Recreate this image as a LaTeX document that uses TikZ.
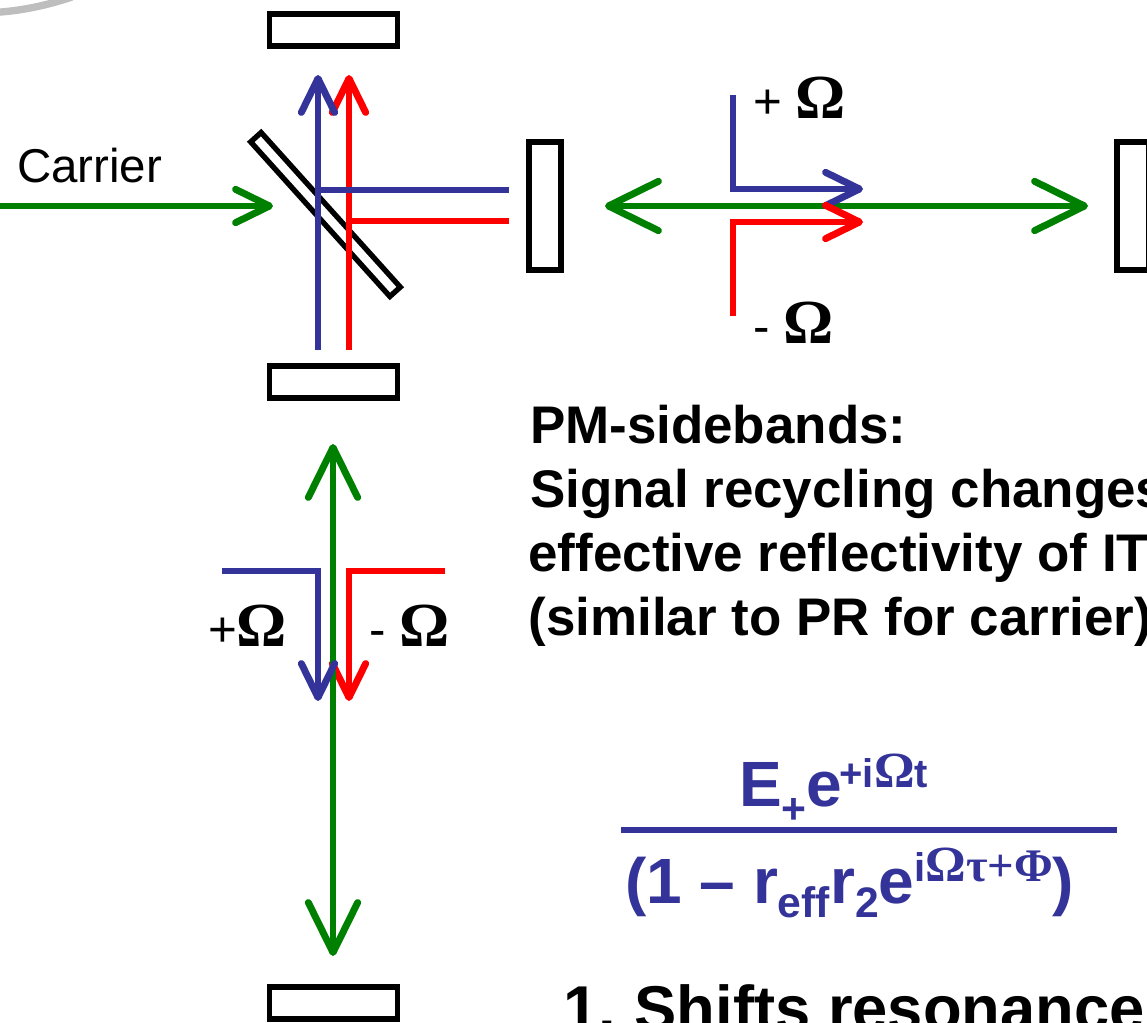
\documentclass[tikz,border=0pt]{standalone}
\usepackage{fontspec}
\setmainfont{Liberation Sans}
\newfontfamily\serifO{Liberation Serif}
\usetikzlibrary{arrows.meta}
\definecolor{beamblue}{HTML}{333399}
\definecolor{beamred}{HTML}{FF0000}
\definecolor{beamgreen}{HTML}{008000}
\definecolor{arcgray}{HTML}{BEBEBE}
\newcommand{\pxfont}[1]{\fontsize{#1}{#1}\selectfont}
\newcommand{\bigO}{{\serifO\bfseries\pxfont{47}Ω}}
\newcommand{\supS}[2]{\raisebox{#1}{\pxfont{30}\bfseries #2}}
\newcommand{\supO}[1]{{\serifO\bfseries\pxfont{38}#1}}
\newcommand{\supT}[1]{{\serifO\bfseries\pxfont{35}#1}}
\newcommand{\subS}[2]{\raisebox{#1}{\pxfont{32}\bfseries #2}}
\tikzset{
  x=0.75pt,y=-0.75pt,
  mirrorh/.style={draw=black,line width=4pt,minimum width=96pt,minimum height=24pt,inner sep=0pt,outer sep=0pt},
  mirrorv/.style={draw=black,line width=4pt,minimum width=24pt,minimum height=96pt,inner sep=0pt,outer sep=0pt},
  splitter/.style={draw=black,line width=4pt,minimum width=156pt,minimum height=10.5pt,inner sep=0pt,outer sep=0pt,rotate=-48},
  beam/.style={line width=4.4pt,line join=miter},
  tipS/.style={-{Straight Barb[round,length=25.5pt,width=25pt,line width=5.2pt]}},
  tipL/.style={{Straight Barb[round,length=37.5pt,width=37pt,line width=5.2pt]}-{Straight Barb[round,length=37.5pt,width=37pt,line width=5.2pt]}},
  txt/.style={inner sep=0pt,outer sep=0pt,anchor=base west,text=black},
  carrierlabel/.style={txt,font=\pxfont{35.6}},
  headline/.style={txt,font=\pxfont{39.7}\bfseries},
  bigline/.style={txt,font=\pxfont{47.5}\bfseries},
  omegalabel/.style={txt,font=\pxfont{37}},
  formula/.style={inner sep=0pt,outer sep=0pt,anchor=base west,text=beamblue,font=\pxfont{48}\bfseries},
}
\begin{document}
\begin{tikzpicture}
\useasboundingbox (0,0) rectangle (1147,1023);
\begin{scope}
\clip (0,0) rectangle (1147,1023);
\draw[arcgray,line width=5.5pt] (-6,12.5) .. controls (20,11) and (45,6) .. (72,-3);
% optics
\node[mirrorh] (mtop) at (333.5,30) {};
\node[mirrorh] (mmid) at (333.5,382) {};
\node[mirrorh] (mbot) at (333.5,1003) {};
\node[mirrorv] (mright) at (545,206) {};
\node[mirrorv] (mfar) at (1133,206) {};
\node[splitter] (bs) at (325.5,214.5) {};
% coordinates
\coordinate (cin) at (-5,206);
\coordinate (cintip) at (273,206);
\coordinate (blow) at (318,350);
\coordinate (btop) at (318,75);
\coordinate (rlow) at (349,350);
\coordinate (rtop) at (349,75);
\coordinate (bj) at (318,190);
\coordinate (bend) at (509,190);
\coordinate (rj) at (349,221);
\coordinate (rend) at (509,221);
\coordinate (gl) at (605,206);
\coordinate (gr) at (1088,206);
\coordinate (gu) at (333,444);
\coordinate (gd) at (333,956);
\coordinate (pa) at (733,95);
\coordinate (pb) at (733,189);
\coordinate (pc) at (863,189);
\coordinate (qa) at (733,316);
\coordinate (qb) at (733,222);
\coordinate (qc) at (863,222);
\coordinate (sa) at (222,571);
\coordinate (sb) at (318,571);
\coordinate (sc) at (318,701);
\coordinate (ta) at (445,571);
\coordinate (tb) at (349,571);
\coordinate (tc) at (349,701);
% beams
\draw[beam,beamgreen,tipS] (cin) -- (cintip);
\draw[beam,beamred,tipS] (rlow) -- (rtop);
\draw[beam,beamblue,tipS] (blow) -- (btop);
\draw[beam,beamred] (rj) -- (rend);
\draw[beam,beamblue] (bj) -- (bend);
\draw[beam,beamgreen,tipL] (gl) -- (gr);
\draw[beam,beamblue,tipS] (pa) -- (pb) -- (pc);
\draw[beam,beamred,tipS] (qa) -- (qb) -- (qc);
\draw[beam,beamred,tipS] (ta) -- (tb) -- (tc);
\draw[beam,beamgreen,tipL] (gu) -- (gd);
\draw[beam,beamblue,tipS] (sa) -- (sb) -- (sc);
% labels
\node[carrierlabel] (lcarrier) at (17,183) {Carrier};
\node[omegalabel] (lp1) at (753,119) {+ \bigO};
\node[omegalabel] (lm1) at (753,344) {- \bigO};
\node[omegalabel] (lp2) at (208,647) {+\bigO};
\node[omegalabel] (lm2) at (369,647) {- \bigO};
\node[headline] (h1) at (530,444) {PM-sidebands:};
\node[headline] (h2) at (530,508) {Signal recycling changes};
\node[headline] (h3) at (528.5,572) {effective reflectivity of ITM};
\node[headline] (h4) at (528.5,636) {(similar to PR for carrier)};
\node[formula] (num) at (739,806) {E\subS{-13pt}{+}e\hspace{-2pt}\supS{14pt}{+i\supO{Ω}t}};
\draw[beamblue,line width=4.5pt] (621,830) -- (1117,830);
\node[formula] (den) at (625,903) {(1 – r\subS{-10.5pt}{eff}r\subS{-10.5pt}{2}e\supS{16pt}{i\supO{Ω}\supT{τ}\supT{+Φ}})};
\node[bigline] (item) at (563,1030) {1.\hspace{-3.5pt} Shifts resonance};
\end{scope}
\end{tikzpicture}
\end{document}
